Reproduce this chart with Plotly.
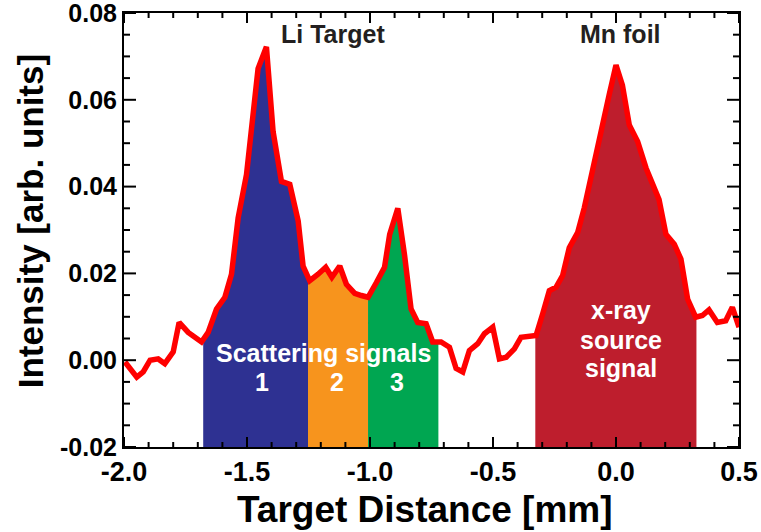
import numpy as np
import plotly.graph_objects as go

# Measured profile (Target distance [mm], intensity [arb. units])
distance = [-1.996, -1.948, -1.922, -1.894, -1.861, -1.834, -1.800, -1.776, -1.739, -1.685,
            -1.658, -1.624, -1.590, -1.563, -1.536, -1.502, -1.455, -1.421, -1.394, -1.360,
            -1.326, -1.292, -1.272, -1.245, -1.211, -1.180, -1.155, -1.123, -1.096, -1.062,
            -1.035, -1.008, -0.974, -0.941, -0.920, -0.887, -0.860, -0.833, -0.806, -0.772,
            -0.745, -0.711, -0.677, -0.650, -0.623, -0.596, -0.562, -0.535, -0.501, -0.474,
            -0.446, -0.413, -0.386, -0.352, -0.325, -0.298, -0.271, -0.244, -0.217, -0.190,
            -0.156, -0.129, -0.095, -0.061, -0.028, 0.000, 0.026, 0.054, 0.088, 0.122,
            0.149, 0.175, 0.203, 0.237, 0.264, 0.291, 0.324, 0.351, 0.378, 0.412,
            0.446, 0.473, 0.500]
intensity = [-0.0004, -0.0039, -0.0027, 0.0000, 0.0003, -0.0008, 0.0019, 0.0087, 0.0064, 0.0042,
             0.0064, 0.0118, 0.0145, 0.0198, 0.0328, 0.0428, 0.0672, 0.0722, 0.0527, 0.0412,
             0.0405, 0.0321, 0.0217, 0.0183, 0.0198, 0.0214, 0.0191, 0.0217, 0.0175, 0.0154,
             0.0149, 0.0145, 0.0179, 0.0214, 0.0290, 0.0350, 0.0244, 0.0118, 0.0087, 0.0084,
             0.0042, 0.0042, 0.0030, -0.0019, -0.0027, 0.0022, 0.0038, 0.0061, 0.0076, 0.0003,
             0.0007, 0.0026, 0.0053, 0.0057, 0.0057, 0.0107, 0.0160, 0.0168, 0.0195, 0.0259,
             0.0294, 0.0351, 0.0443, 0.0527, 0.0611, 0.0680, 0.0634, 0.0542, 0.0504, 0.0443,
             0.0405, 0.0370, 0.0290, 0.0267, 0.0233, 0.0141, 0.0099, 0.0103, 0.0116, 0.0087,
             0.0091, 0.0122, 0.0076]

# Shaded signal windows [start, end] in mm
region_names = ["Scattering 1", "Scattering 2", "Scattering 3", "x-ray source"]
region_start = [-1.678, -1.252, -1.008, -0.328]
region_end = [-1.252, -1.008, -0.722, 0.327]
region_colors = ["#2E3192", "#F7941D", "#00A651", "#BE1E2D"]

x_ticks = [-2.0, -1.5, -1.0, -0.5, 0.0, 0.5]
x_ticktext = ["-2.0", "-1.5", "-1.0", "-0.5", "0.0", "0.5"]
y_ticks = [-0.02, 0.0, 0.02, 0.04, 0.06, 0.08]
y_ticktext = ["-0.02", "0.00", "0.02", "0.04", "0.06", "0.08"]
x_range = [-2.0, 0.5]
y_range = [-0.02, 0.08]
x_minor_step = 0.1
y_minor_step = 0.005
y_floor = -0.02

xd = np.array(distance)
yd = np.array(intensity)

fig = go.Figure()
for name, a, b, col in zip(region_names, region_start, region_end, region_colors):
    inside = (xd > a) & (xd < b)
    px = np.concatenate([[a], xd[inside], [b]])
    py = np.concatenate([[np.interp(a, xd, yd)], yd[inside], [np.interp(b, xd, yd)]])
    poly_x = np.concatenate([[a], px, [b]])
    poly_y = np.concatenate([[y_floor], py, [y_floor]])
    fig.add_trace(go.Scatter(x=poly_x, y=poly_y, mode="lines", fill="toself",
                             fillcolor=col, line=dict(width=0), name=name,
                             hoverinfo="skip", showlegend=False))

fig.add_trace(go.Scatter(x=distance, y=intensity, mode="lines",
                         line=dict(color="#FF0000", width=5.5), showlegend=False))

FAM = "Liberation Sans, Arial"

def ann(text, x, y, size, color):
    fig.add_annotation(x=x, y=y, xref="x", yref="y", text="<b>" + text + "</b>",
                       showarrow=False, font=dict(size=size, color=color, family=FAM),
                       xanchor="center", yanchor="middle")

ann("Li Target", -1.150, 0.0752, 25, "#231F20")
ann("Mn foil", 0.020, 0.0752, 25, "#231F20")
ann("Scattering signals", -1.188, 0.0016, 25, "white")
ann("1", -1.439, -0.0051, 25, "white")
ann("2", -1.135, -0.0051, 25, "white")
ann("3", -0.891, -0.0051, 25, "white")
ann("x-ray", 0.022, 0.0115, 25, "white")
ann("source", 0.022, 0.0046, 25, "white")
ann("signal", 0.022, -0.0018, 25, "white")

# axis titles
fig.add_annotation(text="<b>Target Distance [mm]</b>", xref="paper", yref="paper",
                   x=0.49, y=0, yshift=-62, showarrow=False,
                   font=dict(size=37, color="black", family=FAM),
                   xanchor="center", yanchor="middle")
fig.add_annotation(text="<b>Intensity [arb. units]</b>", xref="paper", yref="paper",
                   x=0, xshift=-94, y=0.52, showarrow=False, textangle=-90,
                   font=dict(size=35, color="black", family=FAM),
                   xanchor="center", yanchor="middle")

# Inward tick marks, drawn as pixel-sized shapes anchored on the axis scales
def x_tick(xv, length):
    for anchor, sign in ((y_range[0], 1), (y_range[1], -1)):
        fig.add_shape(type="line", xref="x", yref="y", ysizemode="pixel",
                      yanchor=anchor, x0=xv, x1=xv, y0=0, y1=sign * length,
                      line=dict(color="black", width=2), layer="above")

def y_tick(yv, length):
    for anchor, sign in ((x_range[0], 1), (x_range[1], -1)):
        fig.add_shape(type="line", xref="x", yref="y", xsizemode="pixel",
                      xanchor=anchor, y0=yv, y1=yv, x0=0, x1=sign * length,
                      line=dict(color="black", width=2), layer="above")

n_xminor = int(round((x_range[1] - x_range[0]) / x_minor_step))
for i in range(n_xminor + 1):
    xv = round(x_range[0] + i * x_minor_step, 3)
    x_tick(xv, 10 if any(abs(xv - t) < 1e-9 for t in x_ticks) else 5)

n_yminor = int(round((y_range[1] - y_range[0]) / y_minor_step))
for i in range(n_yminor + 1):
    yv = round(y_range[0] + i * y_minor_step, 4)
    y_tick(yv, 12 if any(abs(yv - t) < 1e-9 for t in y_ticks) else 6)

fig.update_layout(
    xaxis=dict(range=x_range, tickmode="array", tickvals=x_ticks,
               ticktext=["<b>" + t + "</b>" for t in x_ticktext],
               tickfont=dict(size=27, color="black", family=FAM),
               showline=True, linecolor="black", linewidth=2, mirror=True,
               ticks="", showgrid=False, zeroline=False, automargin=False,
               ticklabeloverflow="allow"),
    yaxis=dict(range=y_range, tickmode="array", tickvals=y_ticks,
               ticktext=["<b>" + t + "</b>" for t in y_ticktext],
               tickfont=dict(size=25, color="black", family=FAM),
               showline=True, linecolor="black", linewidth=2, mirror=True,
               ticks="", showgrid=False, zeroline=False, automargin=False,
               ticklabeloverflow="allow"),
    width=761, height=532,
    margin=dict(l=124, r=22, t=13, b=85),
    plot_bgcolor="white", paper_bgcolor="white",
    showlegend=False,
)

fig.write_html("out.html")
